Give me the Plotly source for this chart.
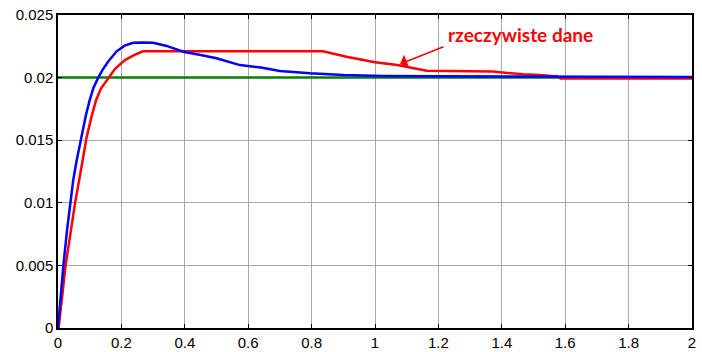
import plotly.graph_objects as go

# reference (setpoint) line
t_ref = [0, 2]
y_ref = [0.02, 0.02]

# model response (blue)
t_model = [0, 0.008, 0.017, 0.028, 0.038, 0.048, 0.059, 0.075, 0.088, 0.100, 0.112,
           0.127, 0.140, 0.159, 0.185, 0.210, 0.237, 0.270, 0.300, 0.340, 0.395, 0.450,
           0.500, 0.574, 0.640, 0.700, 0.795, 0.900, 1.025, 1.200, 1.500, 2.000]
y_model = [0, 0.0025, 0.0050, 0.0077, 0.0100, 0.0118, 0.0134, 0.0155, 0.0170, 0.0182, 0.0192,
           0.0200, 0.0206, 0.0213, 0.0221, 0.02255, 0.02278, 0.0228, 0.02278, 0.02255, 0.02207, 0.0218,
           0.02155, 0.0210, 0.0208, 0.02053, 0.02034, 0.0202, 0.02012, 0.0201, 0.02007, 0.02005]

# real data (red)
t_real = [0, 0.002, 0.024, 0.054, 0.075, 0.090, 0.105, 0.120, 0.135, 0.159, 0.180, 0.211, 0.240,
          0.268, 0.836, 0.910, 1.000, 1.070, 1.163, 1.372, 1.426, 1.467, 1.520, 1.575, 1.585, 2.000]
y_real = [0, 0, 0.0050, 0.0100, 0.0130, 0.0152, 0.0168, 0.0182, 0.0191, 0.0200, 0.0207, 0.0214, 0.0218,
          0.0221, 0.0221, 0.02167, 0.02122, 0.0210, 0.02055, 0.02048, 0.02034, 0.02026, 0.0202, 0.0201, 0.01992, 0.01992]

x_ticks = [0, 0.2, 0.4, 0.6, 0.8, 1, 1.2, 1.4, 1.6, 1.8, 2]
x_tick_labels = ["0", "0.2", "0.4", "0.6", "0.8", "1", "1.2", "1.4", "1.6", "1.8", "2"]
y_ticks = [0, 0.005, 0.01, 0.015, 0.02, 0.025]
y_tick_labels = ["0", "0.005", "0.01", "0.015", "0.02", "0.025"]

annotation_text = "rzeczywiste dane"
arrow_point = (1.079, 0.02108)

fig = go.Figure()
fig.add_trace(go.Scatter(x=t_ref, y=y_ref, mode="lines",
                         line=dict(color="#008000", width=2.5), showlegend=False))
fig.add_trace(go.Scatter(x=t_real, y=y_real, mode="lines",
                         line=dict(color="#ff0000", width=2.5), showlegend=False))
fig.add_trace(go.Scatter(x=t_model, y=y_model, mode="lines",
                         line=dict(color="#0000ff", width=2.5), showlegend=False))

fig.add_annotation(x=arrow_point[0], y=arrow_point[1], xref="x", yref="y",
                   text="", showarrow=True, ax=45, ay=-18,
                   arrowcolor="#ff0000", arrowwidth=1.5, arrowhead=1, arrowsize=1.6)
fig.add_annotation(x=1.46, y=0.02346, xref="x", yref="y",
                   text="<b>" + annotation_text + "</b>", showarrow=False,
                   font=dict(family="Lato", size=19, color="#ff0000"))

axis_common = dict(showline=True, linecolor="black", linewidth=1.5, mirror="ticks",
                   ticks="inside", ticklen=4, tickcolor="black", automargin=False,
                   showgrid=True, gridcolor="#a8a8a8", gridwidth=1, zeroline=False,
                   tickfont=dict(family="Liberation Sans, Arial", size=15, color="black"))

fig.update_xaxes(range=[0, 2], tickvals=x_ticks, ticktext=x_tick_labels, **axis_common)
fig.update_yaxes(range=[0, 0.025], tickvals=y_ticks, ticktext=y_tick_labels, **axis_common)

fig.update_layout(width=702, height=352,
                  margin=dict(l=58, r=10, t=15, b=24),
                  plot_bgcolor="white", paper_bgcolor="white")

fig.write_html("out.html", config={"displayModeBar": False},
               post_script="document.body.style.margin='0px';"
                           "document.documentElement.style.overflow='hidden';")
